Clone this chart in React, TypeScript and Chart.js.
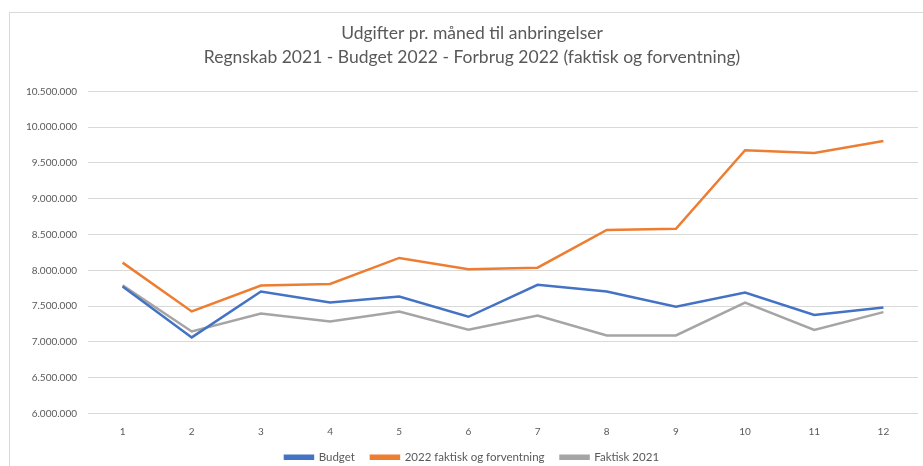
import React, { useEffect, useRef } from "react";
import { Chart, registerables } from "chart.js";

Chart.register(...registerables);

const months = ["1", "2", "3", "4", "5", "6", "7", "8", "9", "10", "11", "12"];
const budget = [7773000, 7063000, 7703000, 7550000, 7634000, 7351000, 7797000, 7703000, 7490000, 7689000, 7375000, 7480000];
const faktiskForventning = [8107000, 7425000, 7787000, 7810000, 8173000, 8015000, 8037000, 8563000, 8580000, 9677000, 9640000, 9806000];
const faktisk2021 = [7790000, 7146000, 7397000, 7285000, 7425000, 7170000, 7369000, 7090000, 7090000, 7550000, 7166000, 7416000];
const seriesNames = ["Budget", "2022 faktisk og forventning", "Faktisk 2021"];
const titleLines = ["Udgifter pr. måned til anbringelser", "Regnskab 2021 - Budget 2022 - Forbrug 2022 (faktisk og forventning)"];
const yMin = 6000000;
const yMax = 10500000;
const yStep = 500000;

const fmt = (v: number) => String(Math.round(v)).replace(/\B(?=(\d{3})+(?!\d))/g, ".");

export default function App() {
  const ref = useRef<HTMLCanvasElement | null>(null);
  useEffect(() => {
    document.body.style.margin = "0";
    if (!ref.current) return;
    const font = "Lato, 'Open Sans', sans-serif";
    const chart = new Chart(ref.current, {
      type: "line",
      data: {
        labels: months,
        datasets: [
          { label: seriesNames[0], data: budget, borderColor: "#4472C4", backgroundColor: "#4472C4" },
          { label: seriesNames[1], data: faktiskForventning, borderColor: "#ED7D31", backgroundColor: "#ED7D31" },
          { label: seriesNames[2], data: faktisk2021, borderColor: "#A5A5A5", backgroundColor: "#A5A5A5" },
        ].map((d) => ({ ...d, borderWidth: 2.5, pointRadius: 0, tension: 0, fill: false })),
      },
      options: {
        animation: false,
        responsive: false,
        maintainAspectRatio: false,
        layout: { padding: { left: 26, right: 5, top: 0, bottom: 0 } },
        plugins: {
          tooltip: { enabled: false },
          title: {
            display: true,
            text: titleLines,
            color: "#595959",
            font: { family: font, size: 17.5, weight: "normal", lineHeight: 1.38 },
            padding: { top: 21, bottom: 22 },
          },
          legend: {
            position: "bottom",
            labels: {
              boxWidth: 28,
              boxHeight: 3,
              color: "#595959",
              font: { family: font, size: 11.5 },
              padding: 16,
            },
          },
        },
        scales: {
          x: {
            offset: true,
            grid: { display: false, drawTicks: false },
            border: { display: false },
            ticks: { color: "#595959", font: { family: font, size: 10 }, padding: 12 },
            afterFit: (s: any) => {
              s.height = s.height - 14;
            },
          },
          y: {
            min: yMin,
            max: yMax,
            grid: { color: "#D9D9D9", lineWidth: 1, drawTicks: false },
            border: { display: false },
            ticks: {
              stepSize: yStep,
              color: "#595959",
              font: { family: font, size: 10 },
              padding: 11,
              callback: (v: any) => fmt(Number(v)),
            },
            afterFit: (s: any) => {
              s.width = 62;
            },
          },
        },
      },
    });
    return () => chart.destroy();
  }, []);
  return (
    <div style={{ position: "relative", width: 923, height: 466, background: "#fff", overflow: "hidden" }}>
      <div
        style={{
          position: "absolute",
          left: 9,
          top: 12,
          right: 0,
          bottom: 0,
          borderTop: "1px solid #D9D9D9",
          borderLeft: "1px solid #D9D9D9",
        }}
      />
      <canvas ref={ref} width={923} height={473} style={{ position: "absolute", left: 0, top: 0 }} />
    </div>
  );
}
